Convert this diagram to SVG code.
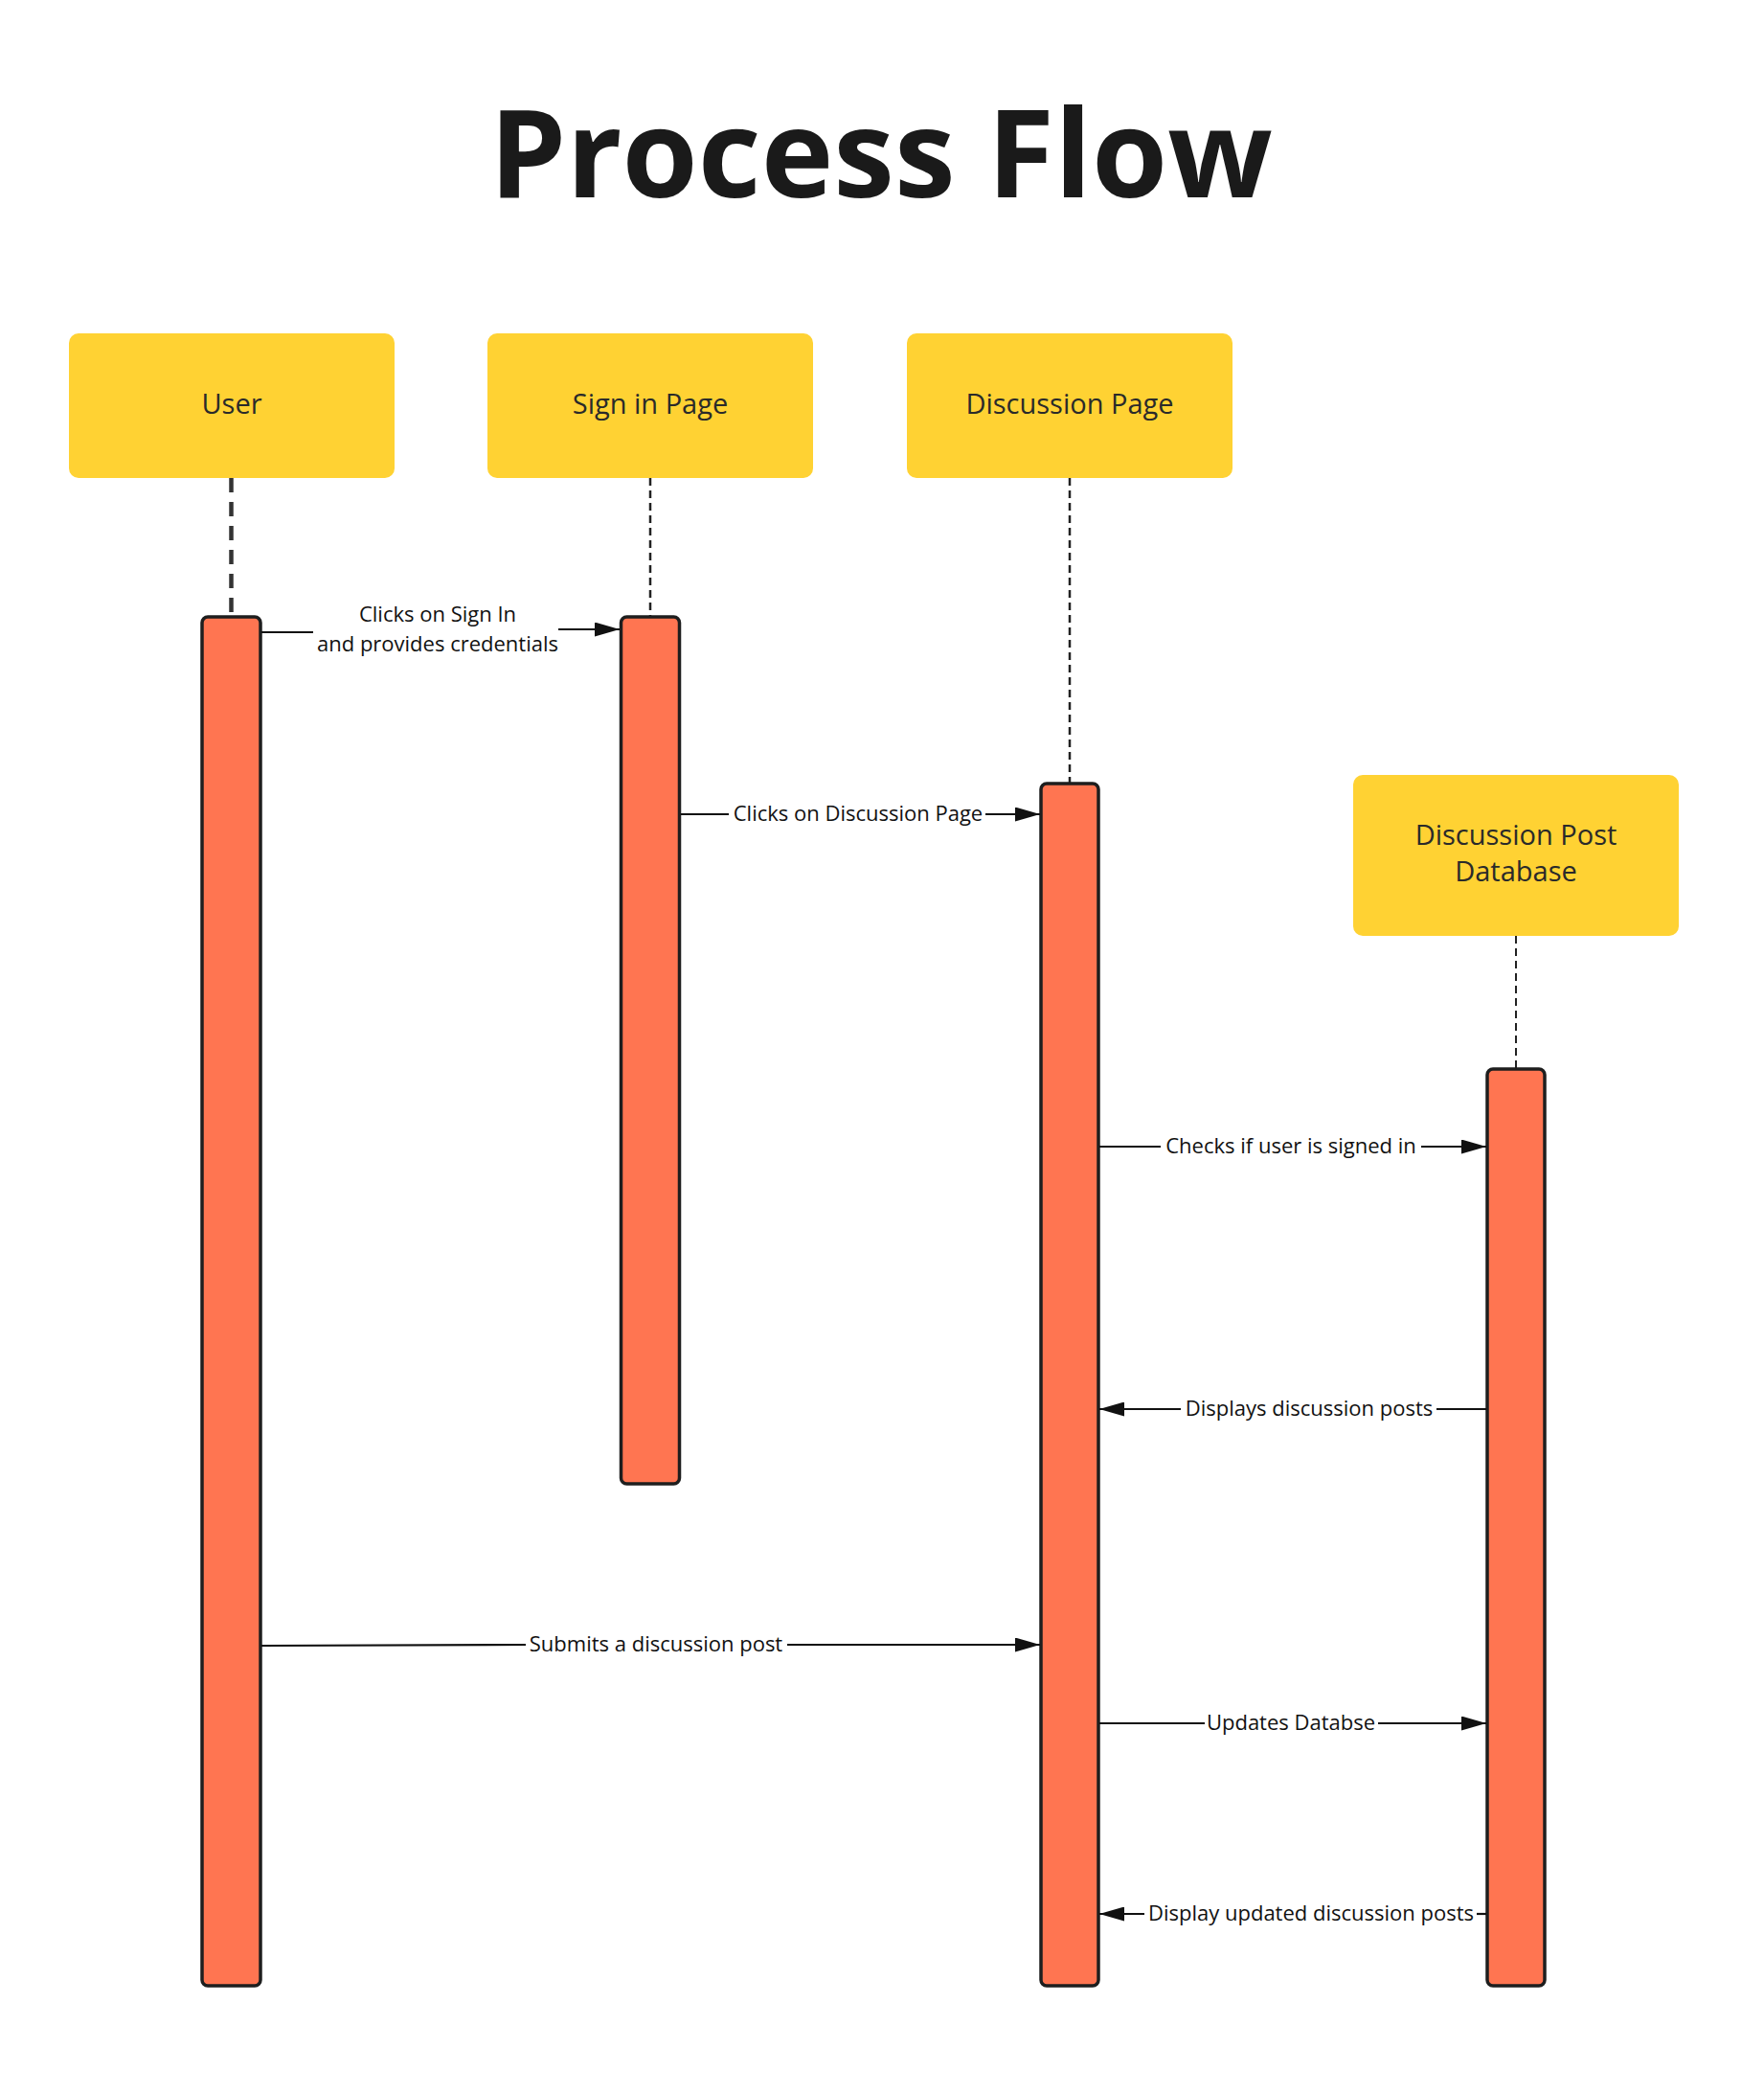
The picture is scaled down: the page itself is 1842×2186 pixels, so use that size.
<svg xmlns="http://www.w3.org/2000/svg" width="1842" height="2186" viewBox="0 0 1842 2186">
<style>
.box{fill:#FFD233;}
.bar{fill:#FF7551;stroke:#1e1e1e;stroke-width:3.5;}
.blab{font-family:"Open Sans","Noto Sans",sans-serif;font-size:29px;fill:#2a2a2a;text-anchor:middle;}
.alab{font-family:"Open Sans","Noto Sans",sans-serif;font-size:22px;fill:#111;text-anchor:middle;}
.life{stroke:#222;stroke-width:2.5;stroke-dasharray:8 5;fill:none;}
.msg{stroke:#111;stroke-width:2.2;fill:none;}
.title{font-family:"Open Sans","Noto Sans",sans-serif;font-size:128px;font-weight:bold;fill:#1a1a1a;text-anchor:middle;}
</style>
<defs>
<marker id="ah" markerUnits="userSpaceOnUse" markerWidth="26" markerHeight="15" refX="26" refY="7.5" orient="auto">
<path d="M0,0 L26,7.5 L0,15 z" fill="#111"/>
</marker>
</defs>
<rect width="1842" height="2186" fill="#fff"/>
<text class="title" x="920" y="206">Process Flow</text>

<g id="lifelines">
<line x1="241.5" y1="499" x2="241.5" y2="644" stroke="#333" stroke-width="4.5" stroke-dasharray="15 10"/>
<line class="life" x1="679" y1="499" x2="679" y2="644"/>
<line class="life" x1="1117" y1="499" x2="1117" y2="818"/>
<line class="life" x1="1583" y1="977" x2="1583" y2="1116" style="stroke-width:2"/>
</g>

<g id="user">
<rect class="box" x="72" y="348" width="340" height="151" rx="10"/>
<text class="blab" x="242" y="432">User</text>
<rect class="bar" x="211" y="644" width="61" height="1429" rx="6"/>
</g>
<g id="signin">
<rect class="box" x="509" y="348" width="340" height="151" rx="10"/>
<text class="blab" x="679" y="432">Sign in Page</text>
<rect class="bar" x="648.5" y="644" width="61" height="905" rx="6"/>
</g>
<g id="discussion">
<rect class="box" x="947" y="348" width="340" height="151" rx="10"/>
<text class="blab" x="1117" y="432">Discussion Page</text>
<rect class="bar" x="1087" y="818" width="60" height="1255" rx="6"/>
</g>
<g id="database">
<rect class="box" x="1413" y="809" width="340" height="168" rx="10"/>
<text class="blab" x="1583" y="882">Discussion Post</text>
<text class="blab" x="1583" y="920">Database</text>
<rect class="bar" x="1553" y="1116" width="60" height="957" rx="6"/>
</g>

<g id="connectors">
<line class="msg" x1="273" y1="660" x2="327" y2="660"/>
<line class="msg" x1="583" y1="657" x2="647" y2="657" marker-end="url(#ah)"/>
<text class="alab" x="457" y="649">Clicks on Sign In</text>
<text class="alab" x="457" y="680">and provides credentials</text>

<line class="msg" x1="711" y1="850" x2="761" y2="850"/>
<line class="msg" x1="1029" y1="850" x2="1086" y2="850" marker-end="url(#ah)"/>
<text class="alab" x="896" y="857">Clicks on Discussion Page</text>

<line class="msg" x1="1148" y1="1197" x2="1212" y2="1197"/>
<line class="msg" x1="1484" y1="1197" x2="1552" y2="1197" marker-end="url(#ah)"/>
<text class="alab" x="1348" y="1204">Checks if user is signed in</text>

<line class="msg" x1="1552" y1="1471" x2="1500" y2="1471"/>
<line class="msg" x1="1233" y1="1471" x2="1148" y2="1471" marker-end="url(#ah)"/>
<text class="alab" x="1367" y="1478">Displays discussion posts</text>

<line class="msg" x1="273" y1="1718" x2="549" y2="1717"/>
<line class="msg" x1="822" y1="1717" x2="1086" y2="1717" marker-end="url(#ah)"/>
<text class="alab" x="685" y="1724">Submits a discussion post</text>

<line class="msg" x1="1148" y1="1799" x2="1258" y2="1799"/>
<line class="msg" x1="1439" y1="1799" x2="1552" y2="1799" marker-end="url(#ah)"/>
<text class="alab" x="1348" y="1806">Updates Databse</text>

<line class="msg" x1="1552" y1="1998" x2="1542" y2="1998"/>
<line class="msg" x1="1195" y1="1998" x2="1148" y2="1998" marker-end="url(#ah)"/>
<text class="alab" x="1369" y="2005">Display updated discussion posts</text>
</g>
</svg>
